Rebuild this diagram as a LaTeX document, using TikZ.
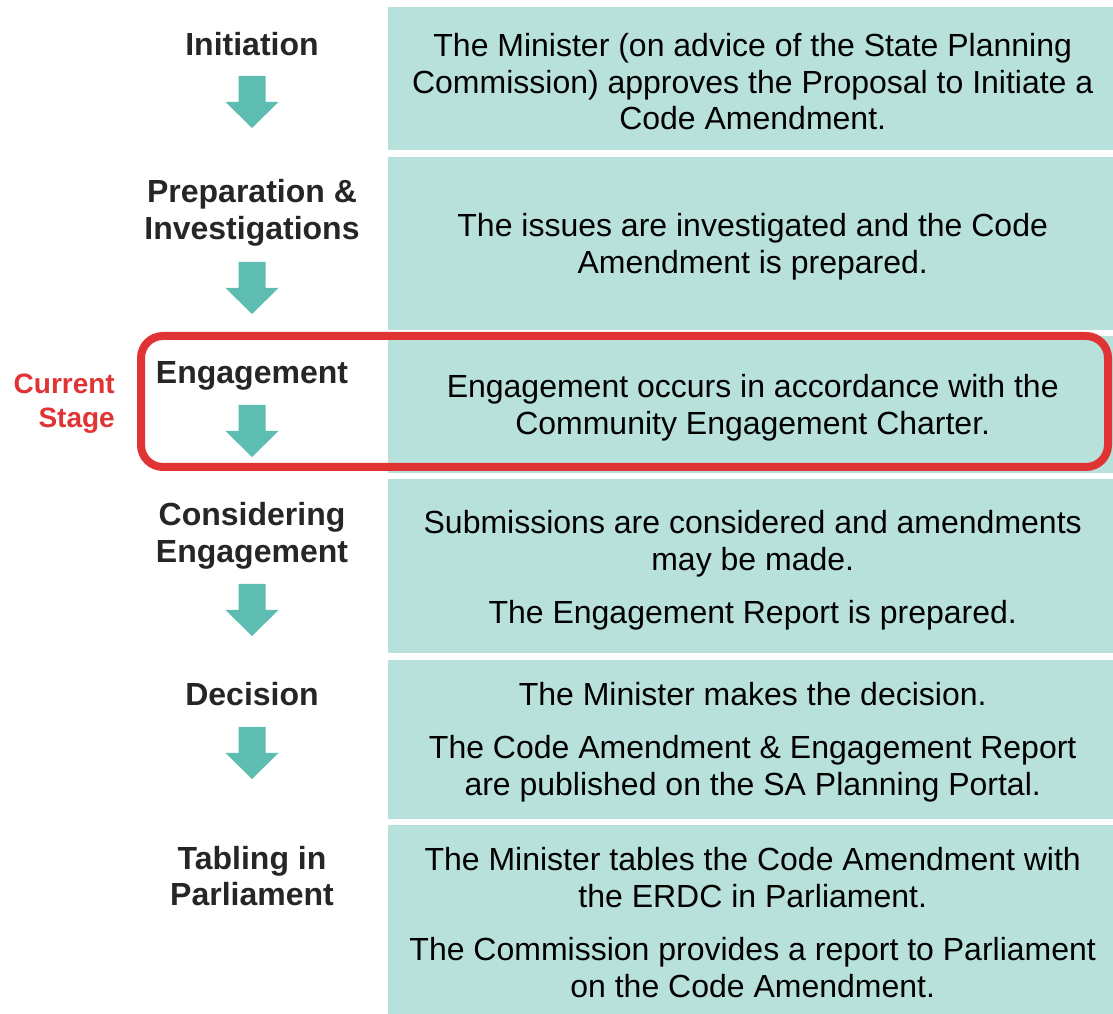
\documentclass[tikz,border=0pt]{standalone}
\usepackage{fontspec}
\setmainfont{Liberation Sans}
\usetikzlibrary{positioning}
\definecolor{BoxFill}{HTML}{B8E1DC}
\definecolor{ArrowTeal}{HTML}{5DBDB0}
\definecolor{StageRed}{HTML}{E03333}
\definecolor{LabelInk}{HTML}{262626}
\tikzset{
  stepbox/.style={fill=BoxFill,minimum width=725pt,inner sep=0pt},
  steptext/.style={align=center,font=\fontsize{32}{36.8}\selectfont,text=black,inner sep=0pt},
  stagelabel/.style={align=center,font=\fontsize{32}{36.8}\selectfont\bfseries,text=LabelInk,inner sep=0pt},
  currentframe/.style={draw=StageRed,line width=8pt,rounded corners=22pt,minimum width=967pt,minimum height=131pt,inner sep=0pt},
  nextarrow/.pic={\fill[ArrowTeal] (-13.5,0) -- (13.5,0) -- (13.5,-26) -- (26.5,-26) -- (0,-52) -- (-26.5,-26) -- (-13.5,-26) -- cycle;}
}

\begin{document}
\begin{tikzpicture}[x=1pt,y=1pt,node distance=6pt]
  \useasboundingbox (0,0) rectangle (1113,1014);
  % description boxes
  \node[stepbox,minimum height=143pt,anchor=north west] (initdesc) at (388,1007) {};
  \node[stepbox,minimum height=173pt,below=of initdesc] (prepdesc) {};
  \node[stepbox,minimum height=137pt,below=of prepdesc] (engdesc) {};
  \node[stepbox,minimum height=174pt,below=of engdesc] (considdesc) {};
  \node[stepbox,minimum height=159pt,below=of considdesc] (decdesc) {};
  \node[stepbox,minimum height=191pt,below=of decdesc] (tabledesc) {};
  \node[steptext] (inittext) at ([shift={(2,-3)}]initdesc.center) {The Minister (on advice of the State Planning\\Commission) approves the Proposal to Initiate a\\Code Amendment.};
  \node[steptext] (preptext) at ([shift={(2,-4)}]prepdesc.center) {The issues are investigated and the Code\\Amendment is prepared.};
  \node[steptext] (engtext) at ([shift={(2,-3)}]engdesc.center) {Engagement occurs in accordance with the\\Community Engagement Charter.};
  \node[steptext] (considtext) at ([shift={(2,-4)}]considdesc.center) {Submissions are considered and amendments\\may be made.\\[16pt]The Engagement Report is prepared.};
  \node[steptext] (dectext) at ([shift={(2,-3)}]decdesc.center) {The Minister makes the decision.\\[16pt]The Code Amendment \& Engagement Report\\are published on the SA Planning Portal.};
  \node[steptext] (tabletext) at ([shift={(2,-2)}]tabledesc.center) {The Minister tables the Code Amendment with\\the ERDC in Parliament.\\[16pt]The Commission provides a report to Parliament\\on the Code Amendment.};
  % stage labels
  \node[stagelabel] (init) at (252,970) {Initiation};
  \node[stagelabel] (prep) at (252,801) {Preparation \&\\Investigations};
  \node[stagelabel] (eng) at (252,638) {Engagement};
  \node[stagelabel] (consid) at (252,478) {Considering\\Engagement};
  \node[stagelabel] (dec) at (252,320) {Decision};
  \node[stagelabel] (table) at (252,138) {Tabling in\\Parliament};
  \foreach \ytop in {938,752,609,430,287}
    \pic at (252,\ytop) {nextarrow};
  % current stage highlight
  \node[currentframe] (frame) at (624.5,612.5) {};
  \node[stagelabel,text=StageRed,font=\fontsize{28}{34}\selectfont\bfseries,align=right,anchor=east] (current) at (115,610.5) {Current\\Stage};
\end{tikzpicture}
\end{document}
